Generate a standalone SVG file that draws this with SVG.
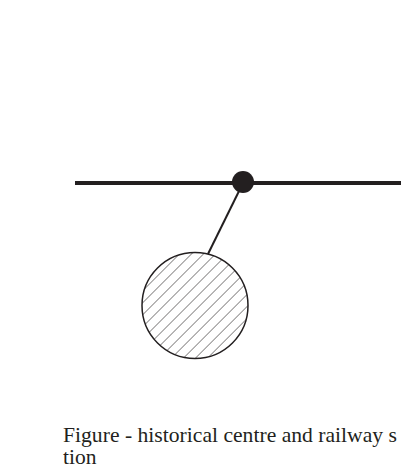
<svg xmlns="http://www.w3.org/2000/svg" width="401" height="470" viewBox="0 0 401 470">
<style>
.road{stroke:#231f20;stroke-width:4;fill:none}
.link{stroke:#231f20;stroke-width:2;fill:none}
.caption{font-family:"Liberation Serif","DejaVu Serif",serif;font-size:21.5px;fill:#231f20}
</style>
<defs>
<pattern id="hatch" patternUnits="userSpaceOnUse" width="8.5" height="8.5" patternTransform="rotate(45)">
<line x1="0" y1="0" x2="0" y2="8.5" stroke="#231f20" stroke-width="1"/>
</pattern>
</defs>
<rect width="401" height="470" fill="#ffffff"/>
<g id="connectors">
<line class="road" x1="75" y1="183" x2="401" y2="183"/>
<line class="link" x1="243" y1="183" x2="208" y2="254"/>
</g>
<g id="station">
<circle cx="243" cy="182" r="11" fill="#231f20"/>
</g>
<g id="historical-centre">
<circle cx="195" cy="305.5" r="53" fill="url(#hatch)" stroke="#231f20" stroke-width="1.5"/>
</g>
<g id="caption">
<text class="caption" x="63" y="442" textLength="334" lengthAdjust="spacingAndGlyphs">Figure - historical centre and railway s</text>
<text class="caption" x="63" y="464">tion</text>
</g>
</svg>
